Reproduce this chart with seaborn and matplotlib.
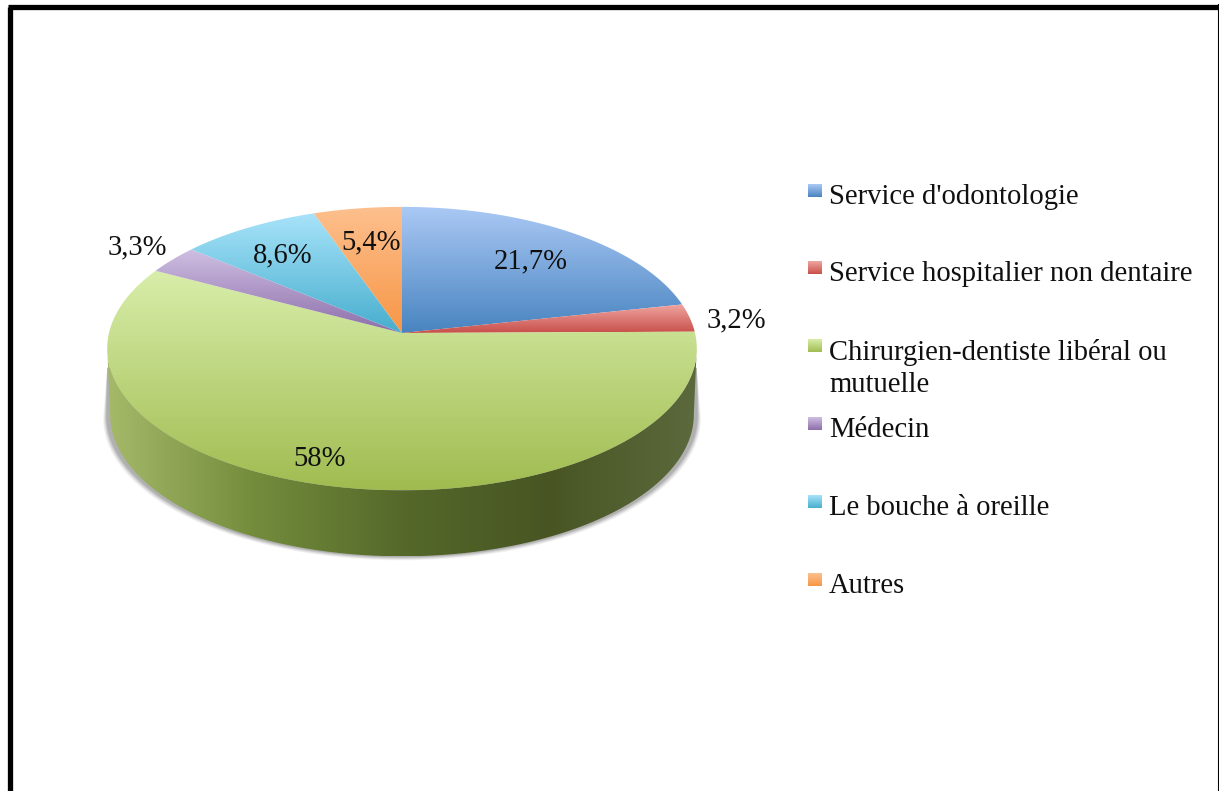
import numpy as np
import matplotlib.pyplot as plt
import seaborn as sns
from matplotlib.patches import Polygon

categories = ["Service d'odontologie", "Service hospitalier non dentaire",
              "Chirurgien-dentiste libéral ou\nmutuelle", "Médecin",
              "Le bouche à oreille", "Autres"]
values = [21.7, 3.2, 58, 3.3, 8.6, 5.4]
value_labels = ["21,7%", "3,2%", "58%", "3,3%", "8,6%", "5,4%"]
label_pos = [(531, 261), (736, 320), (320, 459), (137, 247), (283, 255), (371, 242)]
light_colors = ["#abc9f5", "#f0a6a1", "#d8eeaa", "#cfbfe2", "#a8e3fa", "#fdc08e"]
dark_colors = ["#4884c0", "#c84f4a", "#a0bc50", "#8c6eaa", "#46aecd", "#f79646"]
side_colors = ["#a5b969", "#738c3c", "#55692a", "#485523", "#5c693c"]
legend_y = [194, 271, 349, 427, 505, 583]

# perspective of the pie
cx, cy = 402, 333
rx, ry = 293, 140
persp = 0.11
depth = 66

sns.set_theme(style="white")
plt.rcParams['font.family'] = ['Liberation Serif', 'DejaVu Serif']

fig, ax = plt.subplots(figsize=(12.19, 7.91), dpi=100)
fig.subplots_adjust(0, 0, 1, 1)
ax.axis('off')


def project(theta):
    # theta in degrees, clockwise from 12 o'clock
    t = np.radians(theta)
    w = 1 + persp * np.cos(t)
    return cx + rx * np.sin(t) / w, cy - ry * np.cos(t) / w


def gradient(poly, cmap, horizontal=False):
    x0, x1 = poly[:, 0].min(), poly[:, 0].max()
    y0, y1 = poly[:, 1].min(), poly[:, 1].max()
    g = np.linspace(0, 1, 256)
    g = g[None, :] if horizontal else g[:, None]
    im = ax.imshow(g, cmap=cmap, extent=(x0, x1, y1, y0), aspect='auto', zorder=3)
    im.set_clip_path(Polygon(poly, transform=ax.transData))


fractions = np.array(values) / sum(values)
edges = np.concatenate([[0], np.cumsum(fractions)]) * 360

# shadow under the side wall, from the widest points of the rim
tt = np.linspace(96, 264, 200)
sx, sy = project(tt)
for grow, alpha in zip([4, 3, 2, 1], [0.08, 0.12, 0.16, 0.2]):
    shadow = np.column_stack([cx + (sx - cx) * (rx + grow) / rx, sy + depth + grow])
    shadow = np.vstack([[sx[0], sy[0] + 20], shadow, [sx[-1], sy[-1] + 20]])
    ax.add_patch(Polygon(shadow, color='#555555', alpha=alpha, lw=0, zorder=2))

# side wall: only the biggest slice shows at the front
front = np.column_stack([cx + (sx - cx) * 0.99, sy + depth])
side = np.vstack([np.column_stack([sx, sy]), front[::-1]])
gradient(side, sns.blend_palette(side_colors, as_cmap=True), horizontal=True)

# top face
for i in range(len(values)):
    tt = np.linspace(edges[i], edges[i + 1], 200)
    sx, sy = project(tt)
    poly = np.vstack([[cx, cy], np.column_stack([sx, sy])])
    cmap = sns.blend_palette([light_colors[i], dark_colors[i]], as_cmap=True)
    gradient(poly, cmap)
    x, y = label_pos[i]
    ax.text(x, y, value_labels[i], fontsize=20.6, color='#101010',
            ha='center', va='center', zorder=5)

# legend
for i, name in enumerate(categories):
    y = legend_y[i]
    box = np.array([[808, y - 10], [822, y - 10], [822, y + 3], [808, y + 3]])
    gradient(box, sns.blend_palette([light_colors[i], dark_colors[i]], as_cmap=True))
    ax.text(829, y - 10, name, fontsize=20.6, color='#101010', ha='left', va='top',
            linespacing=1.32, zorder=5)

# frame, open at the bottom
ax.plot([9.5, 9.5], [791, 6.5], color='black', lw=3.8, solid_capstyle='butt', zorder=6)
ax.plot([7.5, 1219], [6.5, 6.5], color='black', lw=3.8, solid_capstyle='butt', zorder=6)
ax.plot([1218.5, 1218.5], [4, 791], color='black', lw=1.5, solid_capstyle='butt', zorder=6)

ax.set_xlim(0, 1219)
ax.set_ylim(791, 0)
fig.savefig('out.png', dpi=100)
